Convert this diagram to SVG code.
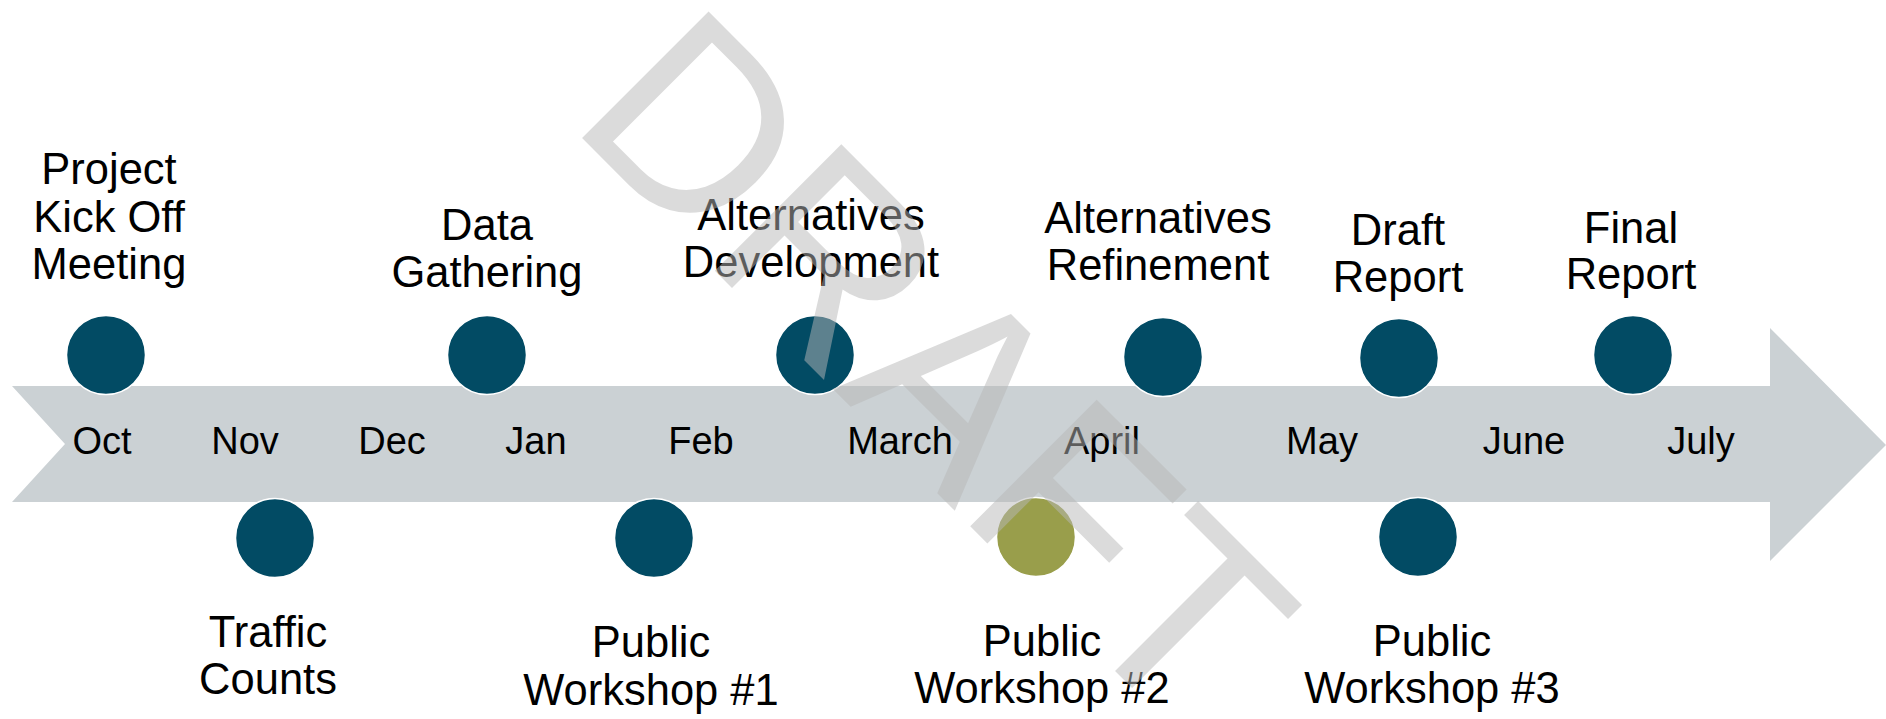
<svg xmlns="http://www.w3.org/2000/svg" width="1886" height="719" viewBox="0 0 1886 719">
  <style>
    .lbl { font-family: "Liberation Sans", Arial, sans-serif; font-size: 43.5px; fill: #000; text-anchor: middle; }
    .mon { font-family: "Liberation Sans", Arial, sans-serif; font-size: 38px; fill: #000; text-anchor: middle; }
    .dot { fill: #024b64; stroke: #ffffff; stroke-width: 1.5; }
    .dot2 { fill: #999e4b; stroke: #ffffff; stroke-width: 1.5; }
    .wm { font-family: "Liberation Sans", Arial, sans-serif; font-size: 260px; fill: #b8b8b8; opacity: 0.5; }
  </style>
  <rect width="1886" height="719" fill="#ffffff"/>

  <g id="connectors">
    <polygon id="timeline-arrow" points="12,386 1770,386 1770,328 1886,445 1770,561 1770,502 12,502 65,444" fill="#cbd1d4"/>
  </g>

  <g id="months">
    <text class="mon" x="102" y="454">Oct</text>
    <text class="mon" x="245" y="454">Nov</text>
    <text class="mon" x="392" y="454">Dec</text>
    <text class="mon" x="536" y="454">Jan</text>
    <text class="mon" x="701" y="454">Feb</text>
    <text class="mon" x="900" y="454">March</text>
    <text class="mon" x="1102" y="454">April</text>
    <text class="mon" x="1322" y="454">May</text>
    <text class="mon" x="1524" y="454">June</text>
    <text class="mon" x="1701" y="454">July</text>
  </g>

  <g id="kickoff">
    <circle class="dot" cx="106" cy="355" r="39.5"/>
    <text class="lbl"><tspan x="109" y="184">Project</tspan><tspan x="109" y="231.5">Kick Off</tspan><tspan x="109" y="279">Meeting</tspan></text>
  </g>
  <g id="traffic-counts">
    <circle class="dot" cx="275" cy="538" r="39.5"/>
    <text class="lbl"><tspan x="268" y="647">Traffic</tspan><tspan x="268" y="694">Counts</tspan></text>
  </g>
  <g id="data-gathering">
    <circle class="dot" cx="487" cy="355" r="39.5"/>
    <text class="lbl"><tspan x="487" y="240">Data</tspan><tspan x="487" y="287">Gathering</tspan></text>
  </g>
  <g id="workshop1">
    <circle class="dot" cx="654" cy="538" r="39.5"/>
    <text class="lbl"><tspan x="651" y="657">Public</tspan><tspan x="651" y="705">Workshop #1</tspan></text>
  </g>
  <g id="alt-development">
    <circle class="dot" cx="815" cy="355" r="39.5"/>
    <text class="lbl"><tspan x="811" y="230">Alternatives</tspan><tspan x="811" y="277">Development</tspan></text>
  </g>
  <g id="workshop2">
    <circle class="dot2" cx="1036" cy="537" r="39.5"/>
    <text class="lbl"><tspan x="1042" y="656">Public</tspan><tspan x="1042" y="703">Workshop #2</tspan></text>
  </g>
  <g id="alt-refinement">
    <circle class="dot" cx="1163" cy="357" r="39.5"/>
    <text class="lbl"><tspan x="1158" y="233">Alternatives</tspan><tspan x="1158" y="280">Refinement</tspan></text>
  </g>
  <g id="draft-report">
    <circle class="dot" cx="1399" cy="358" r="39.5"/>
    <text class="lbl"><tspan x="1398" y="245">Draft</tspan><tspan x="1398" y="292">Report</tspan></text>
  </g>
  <g id="workshop3">
    <circle class="dot" cx="1418" cy="537" r="39.5"/>
    <text class="lbl"><tspan x="1432" y="656">Public</tspan><tspan x="1432" y="703">Workshop #3</tspan></text>
  </g>
  <g id="final-report">
    <circle class="dot" cx="1633" cy="355" r="39.5"/>
    <text class="lbl"><tspan x="1631" y="243">Final</tspan><tspan x="1631" y="289">Report</tspan></text>
  </g>

  <g id="watermark">
    <text class="wm" transform="translate(567,123) rotate(45)" x="0" y="0">DRAFT</text>
  </g>
</svg>
